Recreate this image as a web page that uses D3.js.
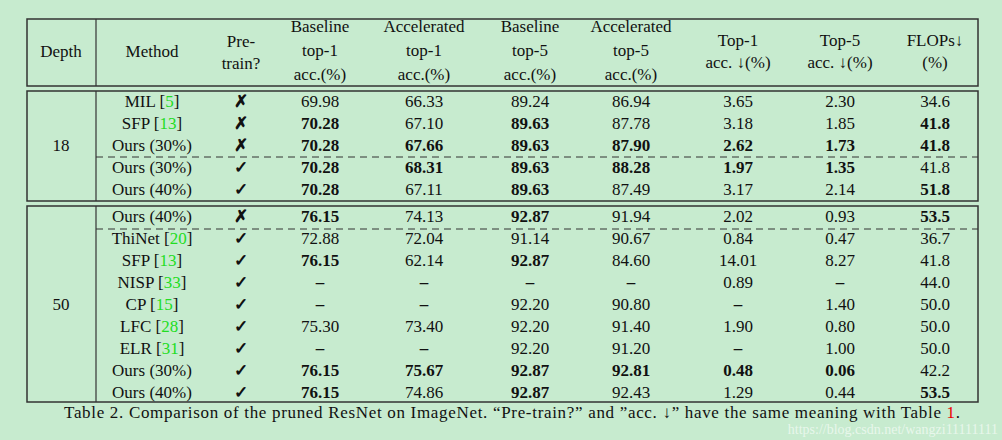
<!DOCTYPE html>
<html>
<head>
<meta charset="utf-8">
<script src="https://cdn.jsdelivr.net/npm/d3@7"></script>
<style>
body { margin: 0; background: #c7ebcf; }
text { font-family: "Liberation Serif", "DejaVu Serif", serif; fill: #111; }
</style>
</head>
<body>
<script>
'use strict';

var columns = ["depth", "method", "pre", "b1", "a1", "b5", "a5", "d1", "d5", "flops"];
var headers = [
    ["Depth"], ["Method"], ["Pre-", "train?"],
    ["Baseline", "top-1", "acc.(%)"], ["Accelerated", "top-1", "acc.(%)"],
    ["Baseline", "top-5", "acc.(%)"], ["Accelerated", "top-5", "acc.(%)"],
    ["Top-1", "acc. ↓(%)"], ["Top-5", "acc. ↓(%)"], ["FLOPs↓", "(%)"]
];

// group 1: ResNet-18
var methods18 = ["MIL", "SFP", "Ours (30%)", "Ours (30%)", "Ours (40%)"];
var refs18 = ["5", "13", "", "", ""];
var pre18 = [false, false, false, true, true];
var vals18 = [
    ["69.98", "66.33", "89.24", "86.94", "3.65", "2.30", "34.6"],
    ["*70.28", "67.10", "*89.63", "87.78", "3.18", "1.85", "*41.8"],
    ["*70.28", "*67.66", "*89.63", "*87.90", "*2.62", "*1.73", "*41.8"],
    ["*70.28", "*68.31", "*89.63", "*88.28", "*1.97", "*1.35", "41.8"],
    ["*70.28", "67.11", "*89.63", "87.49", "3.17", "2.14", "*51.8"]
];

// group 2: ResNet-50
var methods50 = ["Ours (40%)", "ThiNet", "SFP", "NISP", "CP", "LFC", "ELR", "Ours (30%)", "Ours (40%)"];
var refs50 = ["", "20", "13", "33", "15", "28", "31", "", ""];
var pre50 = [false, true, true, true, true, true, true, true, true];
var vals50 = [
    ["*76.15", "74.13", "*92.87", "91.94", "2.02", "0.93", "*53.5"],
    ["72.88", "72.04", "91.14", "90.67", "0.84", "0.47", "36.7"],
    ["*76.15", "62.14", "*92.87", "84.60", "14.01", "8.27", "41.8"],
    ["*–", "*–", "*–", "*–", "0.89", "*–", "44.0"],
    ["*–", "*–", "92.20", "90.80", "*–", "1.40", "50.0"],
    ["75.30", "73.40", "92.20", "91.40", "1.90", "0.80", "50.0"],
    ["*–", "*–", "92.20", "91.20", "*–", "1.00", "50.0"],
    ["*76.15", "*75.67", "*92.87", "*92.81", "*0.48", "*0.06", "42.2"],
    ["*76.15", "74.86", "*92.87", "92.43", "1.29", "0.44", "*53.5"]
];

var colX = d3.scaleOrdinal().domain(columns)
    .range([61, 152, 241, 320, 424, 530, 631, 738, 840, 935]);
var y18 = d3.scaleLinear().domain([0, 1]).range([101, 123]);
var y50 = d3.scaleLinear().domain([0, 1]).range([216, 238]);

var L = 27, R = 978, DIV = 96;

var svg = d3.select("body").append("svg").attr("width", 1002).attr("height", 440);

function box(y0, y1) {
    svg.append("rect").attr("x", L).attr("y", y0).attr("width", R - L).attr("height", y1 - y0)
        .attr("fill", "none").attr("stroke", "#333").attr("stroke-width", 1.5);
    svg.append("line").attr("x1", DIV).attr("x2", DIV).attr("y1", y0).attr("y2", y1)
        .attr("stroke", "#333").attr("stroke-width", 1.2);
}
box(19, 86);
box(91, 201);
box(206, 402);

function dashed(y) {
    svg.append("line").attr("x1", DIV).attr("x2", R).attr("y1", y).attr("y2", y)
        .attr("stroke", "#333").attr("stroke-width", 1).attr("stroke-dasharray", "7,5");
}
dashed(157);
dashed(229);

// header
headers.forEach(function(lines, i) {
    var n = lines.length;
    var ys;
    if (n === 1) ys = [57];
    else if (n === 3) ys = [32, 56, 80];
    else if (i >= 7) ys = [46, 68];
    else ys = [47, 69];
    lines.forEach(function(t, j) {
        svg.append("text").attr("x", colX(columns[i])).attr("y", ys[j])
            .attr("text-anchor", "middle").attr("font-size", 17).text(t);
    });
});

function drawGroup(depth, methods, refs, pre, vals, yScale) {
    var n = methods.length;
    svg.append("text").attr("x", colX("depth")).attr("y", yScale((n - 1) / 2) + 6)
        .attr("text-anchor", "middle").attr("font-size", 17).text(depth);
    methods.forEach(function(m, i) {
        var t = svg.append("text").attr("x", colX("method")).attr("y", yScale(i) + 6)
            .attr("text-anchor", "middle").attr("font-size", 17);
        t.append("tspan").text(m);
        if (refs[i]) {
            t.append("tspan").text(" [");
            t.append("tspan").style("fill", "#22dd22").text(refs[i]);
            t.append("tspan").text("]");
        }
        svg.append("text").attr("x", colX("pre")).attr("y", yScale(i) + 6)
            .attr("text-anchor", "middle").attr("font-size", 17)
            .attr("font-family", "DejaVu Sans").attr("font-weight", "bold")
            .text(pre[i] ? "✓" : "✗");
        vals[i].forEach(function(v, j) {
            var bold = v.charAt(0) === "*";
            svg.append("text").attr("x", colX(columns[j + 3])).attr("y", yScale(i) + 6)
                .attr("text-anchor", "middle").attr("font-size", 17)
                .attr("font-weight", bold ? "bold" : "normal")
                .text(bold ? v.slice(1) : v);
        });
    });
}
drawGroup("18", methods18, refs18, pre18, vals18, y18);
drawGroup("50", methods50, refs50, pre50, vals50, y50);

// caption
var cap = svg.append("text").attr("x", 64).attr("y", 418).attr("font-size", 17)
    .attr("textLength", 896).attr("lengthAdjust", "spacing");
cap.append("tspan").text("Table 2.  Comparison of the pruned ResNet on ImageNet. “Pre-train?” and ”acc. ↓” have the same meaning with Table ");
cap.append("tspan").style("fill", "#e00").text("1");
cap.append("tspan").text(".");

svg.append("text").attr("x", 998).attr("y", 434).attr("text-anchor", "end")
    .attr("font-family", "Liberation Sans").attr("font-size", 14)
    .style("fill", "rgba(255,255,255,0.6)").text("https://blog.csdn.net/wangzi11111111");
</script>
</body>
</html>
